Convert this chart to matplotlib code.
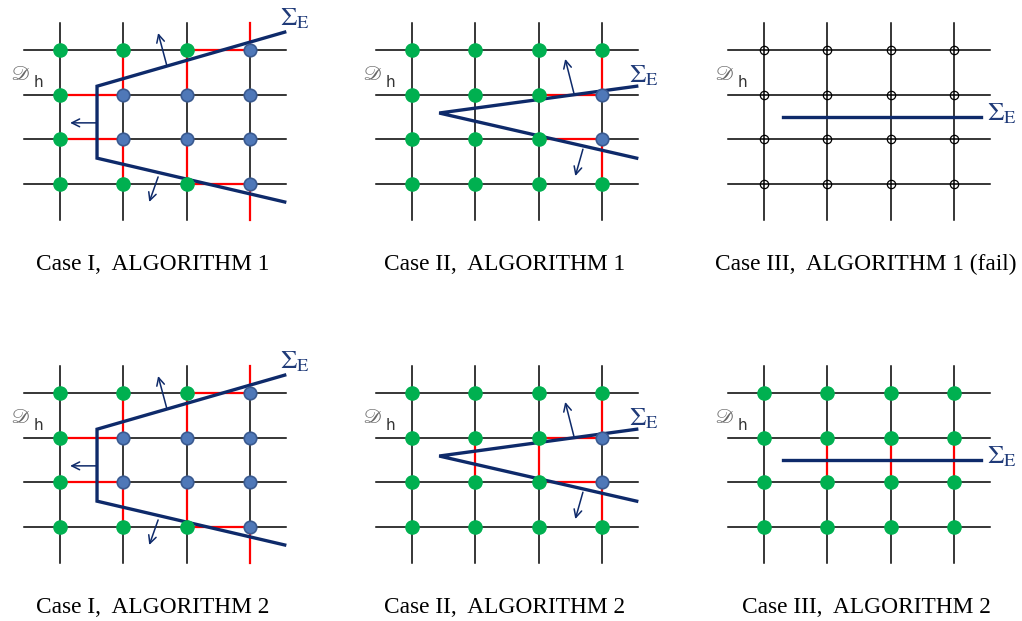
import numpy as np
import matplotlib.pyplot as plt

W, H = 1022, 621

# grid geometry (pixels)
DX, DY = 63.3, 44.7
panel_x0 = [60, 412, 764]
panel_y0 = [50, 393]

navy = '#0e2a6a'
green = '#00b050'
blue_face = '#4f78b8'
blue_edge = '#3a5a90'

# node states, rows top->bottom, cols left->right: g = green, b = blue, o = open
case1_nodes = ["gggb", "gbbb", "gbbb", "gggb"]
case2_nodes = ["gggg", "gggb", "gggb", "gggg"]
case3a_nodes = ["oooo", "oooo", "oooo", "oooo"]
case3b_nodes = ["gggg", "gggg", "gggg", "gggg"]

# red edges (col, row) -> (col, row), grid units
case1_red = [(2, 0, 3, 0), (3, -0.6, 3, 0), (1, 0, 1, 1), (2, 0, 2, 1),
             (0, 1, 1, 1), (0, 2, 1, 2), (1, 2, 1, 3), (2, 2, 2, 3),
             (2, 3, 3, 3), (3, 3, 3, 3.8)]
case2a_red = [(2, 1, 3, 1), (2, 2, 3, 2), (3, 0, 3, 1), (3, 2, 3, 3)]
case2b_red = case2a_red + [(1, 1, 1, 2), (2, 1, 2, 2)]
case3a_red = []
case3b_red = [(1, 1, 1, 2), (2, 1, 2, 2), (3, 1, 3, 2)]

# interface Sigma_E polylines, grid units
case1_iface = [(3.55, -0.40), (0.585, 0.81), (0.585, 2.42), (3.55, 3.40)]
case2_iface = [(3.55, 0.81), (0.43, 1.41), (3.55, 2.42)]
case3_iface = [(0.30, 1.50), (3.43, 1.50)]

# normal arrows (from, to), grid units
case1_arrows = [((1.69, 0.36), (1.55, -0.38)), ((0.585, 1.63), (0.16, 1.63)),
                ((1.55, 2.84), (1.41, 3.40))]
case2_arrows = [((2.56, 0.98), (2.42, 0.20)), ((2.70, 2.22), (2.58, 2.82))]
case3_arrows = []

# Sigma_E label position (grid units, baseline)
case1_sig = (3.48, -0.55)
case2_sig = (3.43, 0.73)
case3_sig = (3.53, 1.57)

labels = [["Case I,  ALGORITHM 1", "Case II,  ALGORITHM 1", "Case III,  ALGORITHM 1 (fail)"],
          ["Case I,  ALGORITHM 2", "Case II,  ALGORITHM 2", "Case III,  ALGORITHM 2"]]

panels = [
    [(case1_nodes, case1_red, case1_iface, case1_arrows, case1_sig),
     (case2_nodes, case2a_red, case2_iface, case2_arrows, case2_sig),
     (case3a_nodes, case3a_red, case3_iface, case3_arrows, case3_sig)],
    [(case1_nodes, case1_red, case1_iface, case1_arrows, case1_sig),
     (case2_nodes, case2b_red, case2_iface, case2_arrows, case2_sig),
     (case3b_nodes, case3b_red, case3_iface, case3_arrows, case3_sig)],
]


def draw_panel(ax, x0, y0, nodes, red, iface, arrows, sig):
    px = lambda c: x0 + c * DX
    py = lambda r: y0 + r * DY
    # grid
    for i in range(4):
        ax.plot([px(-0.57), px(3.57)], [py(i), py(i)], color='black', lw=1.1, zorder=1)
        ax.plot([px(i), px(i)], [py(-0.6), py(3.8)], color='black', lw=1.1, zorder=1)
    # red edges
    for c1, r1, c2, r2 in red:
        ax.plot([px(c1), px(c2)], [py(r1), py(r2)], color='red', lw=1.6, zorder=2)
    # interface
    xs = [px(p[0]) for p in iface]
    ys = [py(p[1]) for p in iface]
    ax.plot(xs, ys, color=navy, lw=2.4, zorder=3, solid_joinstyle='miter')
    for (a, b) in arrows:
        ax.annotate('', xy=(px(b[0]), py(b[1])), xytext=(px(a[0]), py(a[1])),
                    arrowprops=dict(arrowstyle='->', color=navy, lw=1.1,
                                    mutation_scale=14, shrinkA=0, shrinkB=0), zorder=3)
    # nodes
    for r, row in enumerate(nodes):
        for c, s in enumerate(row):
            if s == 'g':
                ax.plot(px(c), py(r), 'o', ms=9.5, color=green, mec=green, zorder=4)
            elif s == 'b':
                ax.plot(px(c), py(r), 'o', ms=9, color=blue_face, mec=blue_edge, mew=1.2, zorder=4)
            else:
                ax.plot(px(c), py(r), 'o', ms=6, mfc='none', mec='black', mew=0.9, zorder=4)
    # labels
    ax.text(px(sig[0]), py(sig[1]), r'$\Sigma_{\rm E}$', color='#1f3a78', fontsize=19,
            math_fontfamily='stix', ha='left', va='baseline', zorder=5)
    ax.text(x0 - 49, y0 + 30, r'$\mathscr{D}$', color='#666666', fontsize=15,
            math_fontfamily='stix', ha='left', va='baseline', zorder=5)
    ax.text(x0 - 26, y0 + 37, 'h', color='#333333', fontsize=11,
            family='DejaVu Sans', ha='left', va='baseline', zorder=5)


fig = plt.figure(figsize=(W / 100, H / 100), dpi=100)
ax = fig.add_axes([0, 0, 1, 1])
ax.set_xlim(0, W)
ax.set_ylim(H, 0)
ax.set_axis_off()

label_x = [153, 505, 866]
label_y = [270, 613]
for i in range(2):
    for j in range(3):
        draw_panel(ax, panel_x0[j], panel_y0[i], *panels[i][j])
        ax.text(label_x[j], label_y[i], labels[i][j], family='Liberation Serif',
                fontsize=16.8, ha='center', va='baseline')

fig.savefig('out.png', dpi=100)
